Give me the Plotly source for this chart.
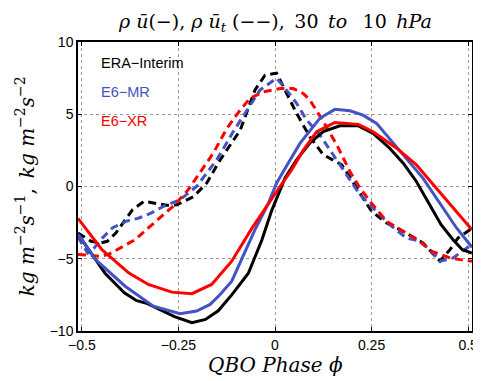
import plotly.graph_objects as go

# ---- data ----
era_u_x = [-0.51, -0.47, -0.44, -0.39, -0.358, -0.33, -0.26, -0.215, -0.18, -0.147, -0.112, -0.069, -0.034, -0.009,
           0.026, 0.056, 0.09, 0.125, 0.168, 0.216, 0.254, 0.297, 0.332, 0.366, 0.40, 0.43, 0.461, 0.485, 0.51]
era_u_y = [-3.3, -4.8, -6.0, -7.35, -7.9, -8.1, -9.0, -9.42, -9.2, -8.6, -7.5, -6.0, -3.7, -1.7,
           0.6, 1.85, 3.0, 3.8, 4.2, 4.2, 3.68, 2.65, 1.61, 0.35, -1.26, -2.64, -3.68, -4.37, -4.6]

mr_u_x = [-0.51, -0.465, -0.388, -0.315, -0.246, -0.203, -0.168, -0.142, -0.112, -0.086, -0.052, -0.017, 0.004,
          0.034, 0.065, 0.116, 0.155, 0.194, 0.228, 0.263, 0.297, 0.332, 0.383, 0.427, 0.47, 0.51]
mr_u_y = [-3.3, -5.05, -6.9, -8.28, -8.8, -8.62, -8.16, -7.47, -6.55, -5.06, -3.0, -1.15, 0.23,
          1.61, 3.0, 4.72, 5.34, 5.24, 4.94, 4.37, 3.33, 2.19, 0.58, -1.15, -2.87, -4.2]

xr_u_x = [-0.51, -0.448, -0.379, -0.328, -0.267, -0.215, -0.164, -0.112, -0.06, -0.017, 0.013, 0.043, 0.073,
          0.108, 0.155, 0.216, 0.254, 0.315, 0.366, 0.41, 0.461, 0.51]
xr_u_y = [-2.2, -4.37, -5.97, -6.78, -7.31, -7.42, -6.78, -5.17, -2.9, -1.15, 0.0, 1.15, 2.5,
          3.79, 4.43, 4.3, 3.79, 2.65, 1.5, 0.12, -1.49, -2.99]

era_ut_x = [-0.51, -0.476, -0.451, -0.434, -0.412, -0.39, -0.369, -0.339, -0.308, -0.28, -0.254, -0.211, -0.177,
            -0.142, -0.09, -0.052, -0.026, 0.004, 0.026, 0.056, 0.09, 0.125, 0.173, 0.211, 0.25, 0.289, 0.34,
            0.383, 0.427, 0.453, 0.474, 0.51]
era_ut_y = [-3.22, -3.79, -3.9, -3.79, -3.22, -2.41, -1.61, -1.03, -1.15, -1.3, -1.26, -0.7, 0.23,
            1.84, 3.9, 6.67, 7.7, 7.85, 6.67, 5.06, 3.45, 2.2, 1.5, -0.11, -1.72, -2.53, -3.22,
            -3.9, -5.17, -4.37, -3.56, -2.9]

mr_ut_x = [-0.51, -0.485, -0.468, -0.447, -0.421, -0.386, -0.352, -0.321, -0.289, -0.246, -0.203, -0.151, -0.108,
           -0.073, -0.039, 0.004, 0.03, 0.056, 0.082, 0.116, 0.151, 0.185, 0.22, 0.254, 0.297, 0.34, 0.375,
           0.405, 0.427, 0.461, 0.491, 0.51]
mr_ut_y = [-3.5, -4.6, -4.25, -3.56, -2.87, -2.41, -2.18, -1.84, -1.38, -0.92, 0.0, 1.84, 3.8,
           5.29, 6.67, 7.5, 6.67, 5.75, 4.6, 3.57, 2.19, 0.8, -0.57, -1.49, -2.64, -3.56, -3.79,
           -4.48, -5.17, -4.94, -4.37, -4.0]

xr_ut_x = [-0.51, -0.453, -0.431, -0.399, -0.362, -0.328, -0.293, -0.259, -0.224, -0.194, -0.16, -0.125, -0.09,
           -0.065, -0.03, 0.013, 0.047, 0.073, 0.09, 0.125, 0.16, 0.194, 0.22, 0.246, 0.289, 0.332, 0.369,
           0.405, 0.453, 0.48, 0.51]
xr_ut_y = [-4.7, -4.83, -4.7, -4.25, -3.68, -2.87, -2.07, -1.26, -0.2, 1.0, 2.3, 4.0, 5.29,
           6.1, 6.55, 6.78, 6.78, 6.44, 6.0, 4.5, 2.88, 1.03, -0.11, -1.03, -2.41, -3.1, -3.68,
           -4.48, -4.94, -5.06, -5.17]

series_names = ["ERA\u2212Interim", "E6\u2212MR", "E6\u2212XR"]
series_colors = ["#000000", "#4352C4", "#FF0000"]

x_ticks = [-0.5, -0.25, 0, 0.25, 0.5]
x_ticklabels = ["\u22120.5", "\u22120.25", "0", "0.25", "0.5"]
y_ticks = [-10, -5, 0, 5, 10]
y_ticklabels = ["\u221210", "\u22125", "0", "5", "10"]

title_text = ("<i>\u03c1 \u016b</i>(\u2212), <i>\u03c1 \u016b<sub>t</sub></i> (\u2212\u2212),\u2002"
              "30\u2002<i>to</i>\u2002 10\u2002<i>hPa</i>")
x_label = "<i>QBO Phase \u03d5</i>"
y_label = ("<i>kg m</i><sup>\u22122</sup><i>s</i><sup>\u22121</sup>,\u2002"
           "<i>kg m</i><sup>\u22122</sup><i>s</i><sup>\u22122</sup>")

SERIF = "DejaVu Serif, serif"
SANS = "Liberation Sans, Arial, sans-serif"

# ---- figure ----
fig = go.Figure()
solid = [(era_u_x, era_u_y), (mr_u_x, mr_u_y), (xr_u_x, xr_u_y)]
dashed = [(era_ut_x, era_ut_y), (mr_ut_x, mr_ut_y), (xr_ut_x, xr_ut_y)]

for (xs, ys), name, col in zip(dashed, series_names, series_colors):
    fig.add_trace(go.Scatter(x=xs, y=ys, mode="lines", name=name + " \u03c1u_t",
                             line=dict(color=col, width=3, dash="8px,5px"), showlegend=False))
for (xs, ys), name, col in zip(solid, series_names, series_colors):
    fig.add_trace(go.Scatter(x=xs, y=ys, mode="lines", name=name,
                             line=dict(color=col, width=3), showlegend=False))

legend_y = [0.927, 0.828, 0.728]
for name, col, ly in zip(series_names, series_colors, legend_y):
    fig.add_annotation(xref="paper", yref="paper", x=0.053, y=ly, xanchor="left", yanchor="middle",
                       text=name, showarrow=False,
                       font=dict(family=SANS, size=14.5, color=col))

# axis titles and chart title as annotations (precise placement)
fig.add_annotation(xref="paper", yref="paper", x=0.5, y=-0.072, xanchor="center", yanchor="top",
                   text=x_label, showarrow=False, borderpad=0,
                   font=dict(family=SERIF, size=20, color="black"))
fig.add_annotation(xref="paper", yref="paper", x=-0.135, y=0.5, xanchor="center", yanchor="middle",
                   text=y_label, textangle=-90, showarrow=False,
                   font=dict(family=SERIF, size=20, color="black"))
fig.add_annotation(xref="paper", yref="paper", x=0.5, y=1.114, xanchor="center", yanchor="top",
                   text=title_text, showarrow=False, borderpad=0,
                   font=dict(family=SERIF, size=19, color="black"))

axis_common = dict(showline=True, linecolor="black", linewidth=1.5, mirror="ticks",
                   ticks="inside", ticklen=4, tickcolor="black", tickwidth=1,
                   showgrid=True, gridcolor="#9a9a9a", gridwidth=1, griddash="dot",
                   zeroline=False, automargin=False,
                   tickfont=dict(family=SANS, size=14, color="black"))

fig.update_xaxes(range=[-0.51, 0.51], tickvals=x_ticks, ticktext=x_ticklabels, **axis_common)
fig.update_yaxes(range=[-10, 10], tickvals=y_ticks, ticktext=y_ticklabels, **axis_common)

# the page body adds an 8px offset, so the figure is 8px smaller and margins compensate
fig.update_layout(
    width=473, height=373,
    margin=dict(l=70, r=9, t=34, b=50),
    paper_bgcolor="white", plot_bgcolor="white",
)

fig.write_html("out.html")
